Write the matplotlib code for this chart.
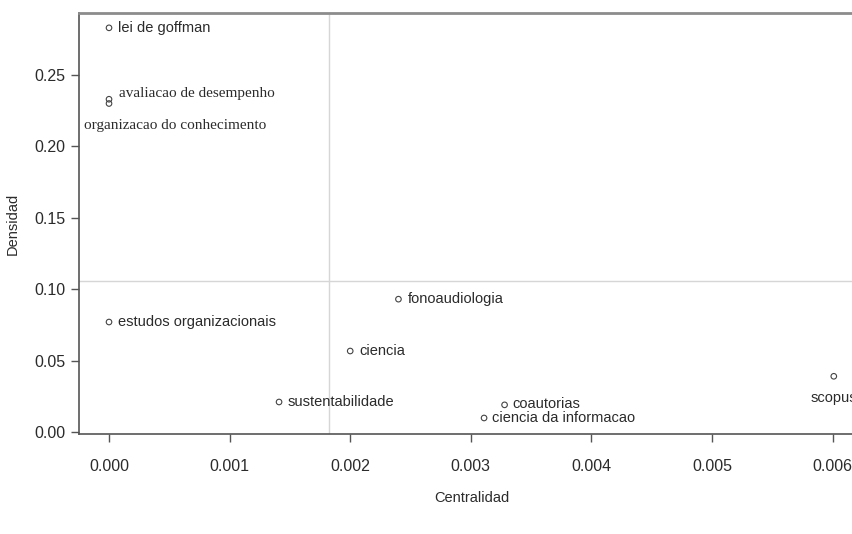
import matplotlib
matplotlib.use("Agg")
import matplotlib.pyplot as plt
from matplotlib import font_manager

# Data: centrality vs density per theme
themes = ["lei de goffman", "avaliacao de desempenho", "organizacao do conhecimento",
          "estudos organizacionais", "sustentabilidade", "ciencia", "fonoaudiologia",
          "coautorias", "ciencia da informacao", "scopus"]
centralidad = [0.0, 0.0, 0.0, 0.0, 0.00141, 0.00200, 0.00240, 0.00328, 0.00311, 0.00601]
densidad = [0.283, 0.233, 0.230, 0.077, 0.021, 0.0567, 0.093, 0.019, 0.0098, 0.039]

mean_centralidad = 0.001824
mean_densidad = 0.1057

x_ticks = [0.000, 0.001, 0.002, 0.003, 0.004, 0.005, 0.006]
x_ticklabels = ["0.000", "0.001", "0.002", "0.003", "0.004", "0.005", "0.006"]
y_ticks = [0.00, 0.05, 0.10, 0.15, 0.20, 0.25]
y_ticklabels = ["0.00", "0.05", "0.10", "0.15", "0.20", "0.25"]

names = {f.name for f in font_manager.fontManager.ttflist}
sans = "Liberation Sans Narrow" if "Liberation Sans Narrow" in names else "Liberation Sans"
serif = "Liberation Serif"

txt = "#2b2b2b"
fig = plt.figure(figsize=(8.53, 5.34), dpi=100)
ax = fig.add_axes([0.0926, 0.1873, 0.9215, 0.7884])

ax.set_xlim(-0.000249, 0.006269)
ax.set_ylim(-0.0014, 0.2934)

ax.axvline(mean_centralidad, color="#d6d6d6", lw=1.0, zorder=1)
ax.axhline(mean_densidad, color="#d6d6d6", lw=1.0, zorder=1)

ax.scatter(centralidad, densidad, s=16, facecolors="none", edgecolors="#444444",
           linewidths=0.8, zorder=3)

# label placement (pixel offsets, alignment, font family)
placement = {
    "lei de goffman": ((9, 0), "left", "center", sans),
    "avaliacao de desempenho": ((10, 6), "left", "center", serif),
    "organizacao do conhecimento": ((-25, -22), "left", "center", serif),
    "estudos organizacionais": ((9, 0), "left", "center", sans),
    "sustentabilidade": ((9, 0), "left", "center", sans),
    "ciencia": ((9, 0), "left", "center", sans),
    "fonoaudiologia": ((9, 0), "left", "center", sans),
    "coautorias": ((8, 1), "left", "center", sans),
    "ciencia da informacao": ((8, 0), "left", "center", sans),
    "scopus": ((0, -22), "center", "center", sans),
}
for name, x, y in zip(themes, centralidad, densidad):
    (dx, dy), ha, va, fam = placement[name]
    ax.annotate(name, (x, y), xytext=(dx, dy), textcoords="offset pixels",
                ha=ha, va=va, fontsize=10.5 if fam == sans else 11,
                family=fam, color=txt, zorder=4, annotation_clip=False)

ax.set_xticks(x_ticks)
ax.set_xticklabels(x_ticklabels, family=sans, fontsize=11.5, color=txt)
ax.set_yticks(y_ticks)
ax.set_yticklabels(y_ticklabels, family=sans, fontsize=11.5, color=txt)
ax.tick_params(axis="x", length=6, width=1, color="#555555", pad=12)
ax.tick_params(axis="y", length=6, width=1, color="#555555", pad=4)

ax.set_xlabel("Centralidad", family=sans, fontsize=10.5, color=txt, labelpad=12)
ax.set_ylabel("Densidad", family="Liberation Sans", fontsize=10.5, color=txt, labelpad=10)

for side in ("left", "bottom"):
    ax.spines[side].set_color("#555555")
    ax.spines[side].set_linewidth(1.2)
ax.spines["top"].set_color("#8c8c8c")
ax.spines["top"].set_linewidth(2.0)
ax.spines["right"].set_visible(False)

fig.savefig("out.png", dpi=100)
